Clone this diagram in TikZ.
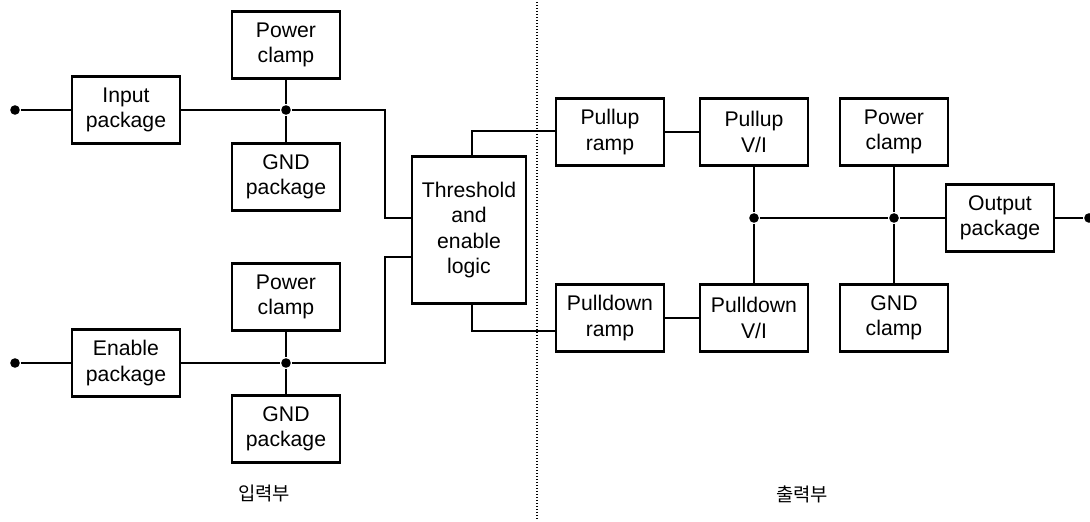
\documentclass[tikz,border=0pt]{standalone}
\usepackage{fontspec}
\setmainfont{Liberation Sans}
\newfontfamily\kor{Noto Sans CJK KR}
\usepackage{tikz}
\usetikzlibrary{calc}

\begin{document}
\begin{tikzpicture}[x=0.5pt, y=-0.5pt, line width=1.1pt,
  font=\fontsize{10.6}{12.6}\selectfont,
  blk/.style={draw, align=center, minimum width=54pt, minimum height=33.5pt, inner sep=1pt},
  jdot/.style={circle, fill, inner sep=0pt, minimum size=4.8pt},
  part/.style={font=\kor\fontsize{9.4}{9.4}\selectfont}]
\useasboundingbox (0,0) rectangle (1090,522);

\foreach \nm/\xc/\yc/\txt in {
inpkg/126/110/{Input\\package}, pwrA/286/45/{Power\\clamp}, gndA/286/177/{GND\\package},
enpkg/126/363/{Enable\\package}, pwrB/286/297/{Power\\clamp}, gndB/286/429/{GND\\package},
upramp/610/132/{Pullup\\ramp}, upvi/754/132/{Pullup\\V/I}, pwrC/894/132/{Power\\clamp},
dnramp/610/318/{Pulldown\\ramp}, dnvi/754/318/{Pulldown\\V/I}, gndC/894/318/{GND\\clamp},
outpkg/1000/218/{Output\\package}} {
  \node[blk] (\nm) at (\xc,\yc) {\txt};
}
\node[blk, minimum width=57pt, minimum height=73.5pt] (logic) at (469,230) {Threshold\\and\\enable\\logic};

\node[jdot] (inpin) at (15,110) {};
\node[jdot] (enpin) at (15,363) {};
\node[jdot] (outpin) at (1089,218) {};
\node[jdot] (jA) at (286,110) {};
\node[jdot] (jB) at (286,363) {};
\node[jdot] (jC) at (754,218) {};
\node[jdot] (jD) at (894,218) {};
\coordinate (cA) at (385,110);
\coordinate (cB) at (385,363);

\draw (inpin) -- (inpkg) -- (jA) -- (cA) |- ([yshift=6pt]logic.west);
\draw (pwrA) -- (jA) -- (gndA);
\draw (enpin) -- (enpkg) -- (jB) -- (cB) |- ([yshift=-13.5pt]logic.west);
\draw (pwrB) -- (jB) -- (gndB);
\draw ([xshift=1.5pt]logic.north) |- ([yshift=0.5pt]upramp.west);
\draw ([xshift=1.5pt]logic.south) |- ([yshift=-6.5pt]dnramp.west);
\draw (upramp) -- (upvi);
\draw (dnramp) -- (dnvi);
\draw (upvi) -- (jC) -- (dnvi);
\draw (pwrC) -- (jD) -- (gndC);
\draw (jC) -- (jD) -- (outpkg) -- (outpin);

\draw[line width=0.7pt, dash pattern=on 0.7pt off 0.8pt] (537,2) -- (537,520);
\node[part] (inlbl) at (264,493) {입력부};
\node[part] (outlbl) at (802,494) {출력부};
\end{tikzpicture}
\end{document}
